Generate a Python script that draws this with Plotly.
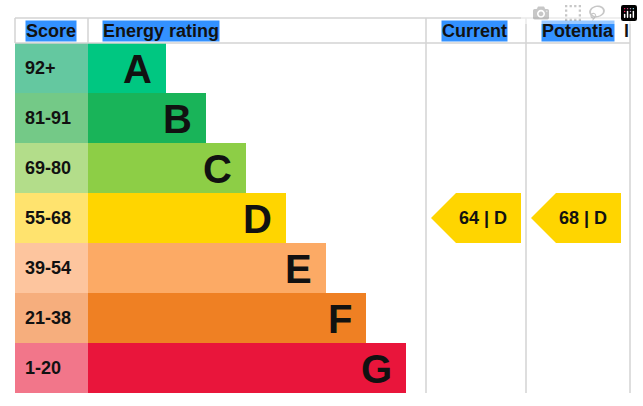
import plotly.graph_objects as go

bands = ["A", "B", "C", "D", "E", "F", "G"]
scores = ["92+", "81-91", "69-80", "55-68", "39-54", "21-38", "1-20"]
bar_lengths = [78, 118, 158, 198, 238, 278, 318]
band_colors = ["#00c781", "#19b459", "#8dce46", "#ffd500", "#fcaa65", "#ef8023", "#e9153b"]
score_colors = ["#64c8a0", "#74c987", "#b3dd8a", "#ffe36e", "#fdc59e", "#f6ae7d", "#f2768a"]
current = {"score": 64, "band": "D"}
potential = {"score": 68, "band": "D"}

W, H = 643, 406
L, R, TOP, HB = 15, 630, 18, 43
ROW = 50
SC_R = 88
CUR_L, POT_L = 426, 526
row_c = [HB + ROW * (i + 0.5) for i in range(len(bands))]
bottom = HB + ROW * len(bands)
FONT = "Liberation Sans"

fig = go.Figure()
fig.add_trace(go.Bar(orientation="h", y=row_c, x=[SC_R - L] * len(bands), base=L, width=ROW,
                     marker=dict(color=score_colors, line_width=0), hoverinfo="skip"))
fig.add_trace(go.Bar(orientation="h", y=row_c, x=bar_lengths, base=SC_R, width=ROW,
                     marker=dict(color=band_colors, line_width=0), hoverinfo="skip"))

ann = []
for i, b in enumerate(bands):
    ann.append(dict(x=SC_R + bar_lengths[i] - 12, y=row_c[i] + 1, text=f"<b>{b}</b>", xanchor="right",
                    showarrow=False, font=dict(size=40, color="#111", family=FONT)))
    ann.append(dict(x=L + 8, y=row_c[i], text=f"<b>{scores[i]}</b>", xanchor="left",
                    showarrow=False, font=dict(size=18, color="#111", family=FONT)))
hy = (TOP + HB) / 2
for x, t in [(25, "Score"), (102, "Energy rating"), (441, "Current"), (541, "Potentia")]:
    ann.append(dict(x=x, y=hy, text=f"<b>{t}</b>", xanchor="left", showarrow=False,
                    bgcolor="#3391ff", borderpad=0, font=dict(size=18, color="#111", family=FONT)))
ann.append(dict(x=622, y=hy, text="<b>l</b>", xanchor="left", showarrow=False,
                font=dict(size=18, color="#111", family=FONT)))

shapes = []
line = dict(color="#d3d3d3", width=1.5)
shapes.append(dict(type="line", x0=L, x1=R, y0=TOP, y1=TOP, line=line))
shapes.append(dict(type="line", x0=L, x1=R, y0=HB, y1=HB, line=line))
shapes.append(dict(type="line", x0=L, x1=L, y0=TOP, y1=HB, line=line))
shapes.append(dict(type="line", x0=SC_R, x1=SC_R, y0=TOP, y1=HB, line=line))
for x in (CUR_L, POT_L, R):
    shapes.append(dict(type="line", x0=x, x1=x, y0=TOP, y1=bottom, line=line))

for col_l, rec in [(CUR_L, current), (POT_L, potential)]:
    i = bands.index(rec["band"])
    c = row_c[i]
    x0, x1, tip = col_l + 5, col_l + 95, col_l + 30
    shapes.append(dict(type="path", path=f"M {x0} {c} L {tip} {c-25} L {x1} {c-25} L {x1} {c+25} L {tip} {c+25} Z",
                       fillcolor=band_colors[i], line_width=0, layer="below"))
    ann.append(dict(x=(x0 + x1) / 2 + 7, y=c, text=f"<b>{rec['score']} | {rec['band']}</b>", showarrow=False,
                    font=dict(size=18, color="#111", family=FONT)))

fig.update_layout(width=W, height=H, margin=dict(l=0, r=0, t=0, b=0), showlegend=False,
                  plot_bgcolor="white", paper_bgcolor="white", barmode="overlay",
                  xaxis=dict(range=[0, W], visible=False, fixedrange=True),
                  yaxis=dict(range=[H, 0], visible=False, fixedrange=True),
                  annotations=ann, shapes=shapes)
fig.write_html("out.html", post_script="document.body.style.margin='0';document.body.style.overflow='hidden';")
